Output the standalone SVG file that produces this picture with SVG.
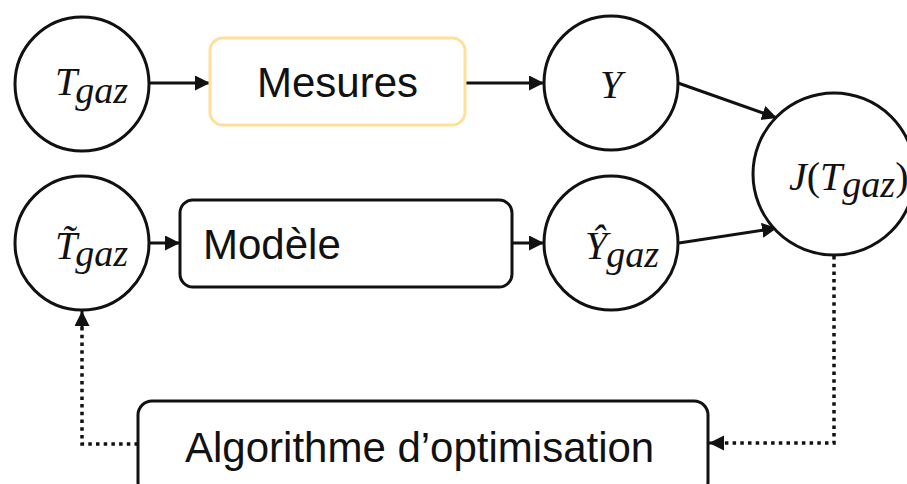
<svg xmlns="http://www.w3.org/2000/svg" width="907" height="484" viewBox="0 0 907 484">
  <style>
    .node { fill: #ffffff; stroke: #111111; stroke-width: 3; }
    .box-meas { fill: #ffffff; stroke: #FFE09A; stroke-width: 3; }
    .label { font-family: "Liberation Sans", Arial, sans-serif; font-size: 42px; fill: #111111; }
    .math { font-family: "Liberation Serif", "DejaVu Serif", serif; font-style: italic; font-size: 40px; fill: #111111; }
    .sub { font-size: 38px; }
    .up { font-style: normal; }
    .edge { fill: none; stroke: #111111; stroke-width: 3; }
    .dotted { fill: none; stroke: #111111; stroke-width: 3.5; stroke-dasharray: 3.5 4.2; }
  </style>
  <defs>
    <marker id="arrow" markerUnits="userSpaceOnUse" markerWidth="16" markerHeight="16" refX="15" refY="7.5" orient="auto">
      <path d="M0,0 L15,7.5 L0,15 Z" fill="#111111"/>
    </marker>
  </defs>

  <rect width="907" height="484" fill="#ffffff"/>

  <!-- connectors -->
  <g id="connectors">
    <path class="edge" d="M150,83 L210,83" marker-end="url(#arrow)"/>
    <path class="edge" d="M465,83 L544,83" marker-end="url(#arrow)"/>
    <path class="edge" d="M150,243 L180,243" marker-end="url(#arrow)"/>
    <path class="edge" d="M512,243 L544,243" marker-end="url(#arrow)"/>
    <path class="edge" d="M678,83 L777,118" marker-end="url(#arrow)"/>
    <path class="edge" d="M679,243 L777,228" marker-end="url(#arrow)"/>
    <path class="dotted" d="M834,256 L834,443 L722,443"/>
    <path class="edge" d="M724,443 L709,443" marker-end="url(#arrow)"/>
    <path class="dotted" d="M138,444 L82,444 L82,326"/>
    <path class="edge" d="M82,327 L82,311" marker-end="url(#arrow)"/>
  </g>

  <!-- T_gaz -->
  <g id="node-tgaz">
    <circle class="node" cx="82" cy="84" r="67"/>
    <text class="math" x="55" y="95">T<tspan class="sub" dx="-2" dy="8">gaz</tspan></text>
  </g>

  <!-- Mesures -->
  <g id="node-mesures">
    <rect class="box-meas" x="210" y="38" width="255" height="87" rx="13"/>
    <text class="label" x="257" y="97">Mesures</text>
  </g>

  <!-- Y -->
  <g id="node-y">
    <circle class="node" cx="611" cy="83" r="67"/>
    <text class="math" x="600" y="98">Y</text>
  </g>

  <!-- T tilde gaz -->
  <g id="node-ttilde">
    <circle class="node" cx="82" cy="243" r="67"/>
    <text class="math" x="55" y="259">T&#x0303;<tspan class="sub" dx="-2" dy="7">gaz</tspan></text>
  </g>

  <!-- Modele -->
  <g id="node-modele">
    <rect class="node" x="180" y="200" width="332" height="87" rx="13"/>
    <text class="label" x="203" y="259">Modèle</text>
  </g>

  <!-- Y hat gaz -->
  <g id="node-yhat">
    <circle class="node" cx="611" cy="243" r="67"/>
    <text class="math" x="585" y="259">Ŷ<tspan class="sub" dx="-1" dy="8">gaz</tspan></text>
  </g>

  <!-- J(T_gaz) -->
  <g id="node-j">
    <circle class="node" cx="834" cy="174" r="81"/>
    <text class="math" x="789" y="190">J<tspan class="up">(</tspan>T<tspan class="sub" dy="7">gaz</tspan><tspan class="up" dy="-7">)</tspan></text>
  </g>

  <!-- Algorithme d'optimisation -->
  <g id="node-algo">
    <rect class="node" x="138" y="401" width="570" height="95" rx="14"/>
    <text class="label" x="185" y="462">Algorithme d’optimisation</text>
  </g>
</svg>
